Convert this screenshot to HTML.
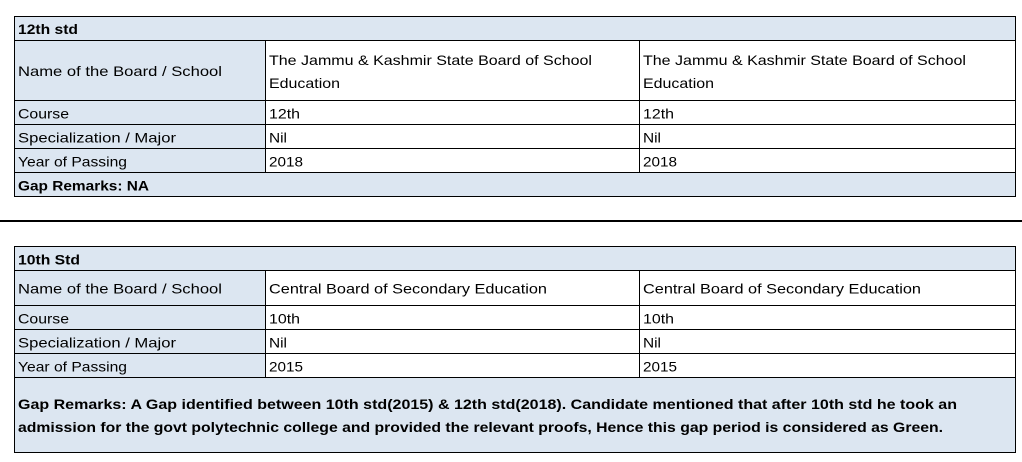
<!DOCTYPE html>
<html><head><meta charset="utf-8"><style>
html,body{margin:0;padding:0;background:#fff;width:1022px;height:462px;overflow:hidden}
svg{display:block}
text{font-family:"Liberation Sans",Arial,sans-serif;font-size:14px;fill:#000}
.b{font-weight:bold}
</style></head><body>
<svg width="1022" height="462" viewBox="0 0 1022 462" xmlns="http://www.w3.org/2000/svg">
<g shape-rendering="crispEdges">
<!-- Table 1 fills -->
<rect x="14" y="16" width="1002" height="181" fill="#DCE6F1"/>
<rect x="265" y="40" width="751" height="132" fill="#fff"/>
<!-- Table 1 lines -->
<rect x="14.5" y="16.5" width="1001" height="180" fill="none" stroke="#000" stroke-width="1"/>
<line x1="14" y1="40.5" x2="1016" y2="40.5" stroke="#000"/>
<line x1="14" y1="100.5" x2="1016" y2="100.5" stroke="#000"/>
<line x1="14" y1="124.5" x2="1016" y2="124.5" stroke="#000"/>
<line x1="14" y1="148.5" x2="1016" y2="148.5" stroke="#000"/>
<line x1="14" y1="172.5" x2="1016" y2="172.5" stroke="#000"/>
<line x1="265.5" y1="40" x2="265.5" y2="173" stroke="#000"/>
<line x1="639.5" y1="40" x2="639.5" y2="173" stroke="#000"/>
<!-- divider -->
<rect x="0" y="220" width="1022" height="2" fill="#000"/>
<!-- Table 2 fills -->
<rect x="14" y="246" width="1002" height="207" fill="#DCE6F1"/>
<rect x="265" y="270" width="751" height="107" fill="#fff"/>
<rect x="14.5" y="246.5" width="1001" height="206" fill="none" stroke="#000" stroke-width="1"/>
<line x1="14" y1="270.5" x2="1016" y2="270.5" stroke="#000"/>
<line x1="14" y1="305.5" x2="1016" y2="305.5" stroke="#000"/>
<line x1="14" y1="329.5" x2="1016" y2="329.5" stroke="#000"/>
<line x1="14" y1="353.5" x2="1016" y2="353.5" stroke="#000"/>
<line x1="14" y1="377.5" x2="1016" y2="377.5" stroke="#000"/>
<line x1="265.5" y1="270" x2="265.5" y2="378" stroke="#000"/>
<line x1="639.5" y1="270" x2="639.5" y2="378" stroke="#000"/>
</g>
<!-- Table 1 text -->
<text class="b" x="18" y="34" textLength="60" lengthAdjust="spacingAndGlyphs">12th std</text>
<text x="18" y="76" textLength="204" lengthAdjust="spacingAndGlyphs">Name of the Board / School</text>
<text x="269" y="65" textLength="323" lengthAdjust="spacingAndGlyphs">The Jammu &amp; Kashmir State Board of School</text>
<text x="269" y="88" textLength="71" lengthAdjust="spacingAndGlyphs">Education</text>
<text x="643" y="65" textLength="323" lengthAdjust="spacingAndGlyphs">The Jammu &amp; Kashmir State Board of School</text>
<text x="643" y="88" textLength="71" lengthAdjust="spacingAndGlyphs">Education</text>
<text x="18" y="118.5" textLength="51" lengthAdjust="spacingAndGlyphs">Course</text>
<text x="269" y="118.5" textLength="31" lengthAdjust="spacingAndGlyphs">12th</text>
<text x="643" y="118.5" textLength="31" lengthAdjust="spacingAndGlyphs">12th</text>
<text x="18" y="142.5" textLength="158" lengthAdjust="spacingAndGlyphs">Specialization / Major</text>
<text x="269" y="142.5" textLength="18" lengthAdjust="spacingAndGlyphs">Nil</text>
<text x="643" y="142.5" textLength="18" lengthAdjust="spacingAndGlyphs">Nil</text>
<text x="18" y="166.5" textLength="109" lengthAdjust="spacingAndGlyphs">Year of Passing</text>
<text x="269" y="166.5" textLength="34" lengthAdjust="spacingAndGlyphs">2018</text>
<text x="643" y="166.5" textLength="34" lengthAdjust="spacingAndGlyphs">2018</text>
<text class="b" x="18" y="190.5" textLength="131" lengthAdjust="spacingAndGlyphs">Gap Remarks: NA</text>
<!-- Table 2 text -->
<text class="b" x="18" y="264.5" textLength="62" lengthAdjust="spacingAndGlyphs">10th Std</text>
<text x="18" y="293.5" textLength="204" lengthAdjust="spacingAndGlyphs">Name of the Board / School</text>
<text x="269" y="293.5" textLength="278" lengthAdjust="spacingAndGlyphs">Central Board of Secondary Education</text>
<text x="643" y="293.5" textLength="278" lengthAdjust="spacingAndGlyphs">Central Board of Secondary Education</text>
<text x="18" y="323.5" textLength="51" lengthAdjust="spacingAndGlyphs">Course</text>
<text x="269" y="323.5" textLength="31" lengthAdjust="spacingAndGlyphs">10th</text>
<text x="643" y="323.5" textLength="31" lengthAdjust="spacingAndGlyphs">10th</text>
<text x="18" y="347.5" textLength="158" lengthAdjust="spacingAndGlyphs">Specialization / Major</text>
<text x="269" y="347.5" textLength="18" lengthAdjust="spacingAndGlyphs">Nil</text>
<text x="643" y="347.5" textLength="18" lengthAdjust="spacingAndGlyphs">Nil</text>
<text x="18" y="371.5" textLength="109" lengthAdjust="spacingAndGlyphs">Year of Passing</text>
<text x="269" y="371.5" textLength="34" lengthAdjust="spacingAndGlyphs">2015</text>
<text x="643" y="371.5" textLength="34" lengthAdjust="spacingAndGlyphs">2015</text>
<text class="b" x="18" y="409" textLength="939" lengthAdjust="spacingAndGlyphs">Gap Remarks: A Gap identified between 10th std(2015) &amp; 12th std(2018). Candidate mentioned that after 10th std he took an</text>
<text class="b" x="18" y="432" textLength="925" lengthAdjust="spacingAndGlyphs">admission for the govt polytechnic college and provided the relevant proofs, Hence this gap period is considered as Green.</text>
</svg>
</body></html>
